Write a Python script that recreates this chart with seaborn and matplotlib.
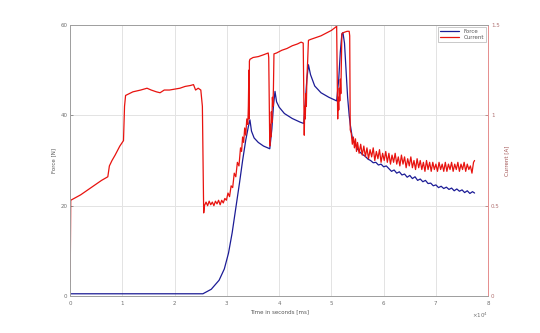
import numpy as np
import pandas as pd
import seaborn as sns
import matplotlib
matplotlib.use("Agg")
import matplotlib.pyplot as plt
from matplotlib.ticker import ScalarFormatter

# time axis in units of 1e4 ms, current in A
cur_t = [0.00, 0.005, 0.01, 0.20, 0.40, 0.60, 0.72, 0.75, 0.80, 0.86, 0.95, 1.02, 1.04, 1.06,
         1.20, 1.35, 1.47, 1.55, 1.65, 1.72, 1.80, 1.90, 2.00, 2.10, 2.20, 2.30, 2.36, 2.40,
         2.45, 2.50, 2.53, 2.545, 2.555, 2.57,
         2.60, 2.63, 2.66, 2.69, 2.72, 2.75, 2.78, 2.81, 2.84, 2.87, 2.90, 2.93, 2.96, 2.99,
         3.02, 3.05, 3.08, 3.11, 3.14, 3.17, 3.20, 3.23, 3.26, 3.28, 3.30, 3.32, 3.34, 3.36,
         3.38, 3.40, 3.41, 3.42, 3.425, 3.43,
         3.44, 3.50, 3.60, 3.70, 3.79, 3.80,
         3.82, 3.83, 3.84, 3.85, 3.86, 3.87, 3.88, 3.89, 3.90,
         3.95, 4.05, 4.15, 4.25, 4.35, 4.42, 4.46,
         4.48, 4.49, 4.50, 4.51, 4.52, 4.53, 4.545, 4.56,
         4.60, 4.70, 4.80, 4.90, 5.00, 5.09, 5.10,
         5.12, 5.13, 5.14, 5.15, 5.16, 5.17, 5.18, 5.19, 5.20, 5.21, 5.25, 5.30, 5.34, 5.35,
         5.36, 5.38, 5.40, 5.42, 5.44, 5.46, 5.48, 5.50, 5.53, 5.56, 5.59, 5.62, 5.65, 5.68,
         5.71, 5.74, 5.77, 5.80, 5.83, 5.86, 5.89, 5.92, 5.95, 5.98, 6.01, 6.04, 6.07, 6.10,
         6.13, 6.16, 6.19, 6.22, 6.25, 6.28, 6.31, 6.34, 6.37, 6.40, 6.43, 6.46, 6.49, 6.52,
         6.55, 6.58, 6.61, 6.64, 6.67, 6.70, 6.73, 6.76, 6.79, 6.82, 6.85, 6.88, 6.91, 6.94,
         6.97, 7.00, 7.03, 7.06, 7.09, 7.12, 7.15, 7.18, 7.21, 7.24, 7.27, 7.30, 7.33, 7.36,
         7.39, 7.42, 7.45, 7.48, 7.51, 7.54, 7.57, 7.60, 7.63, 7.66, 7.69, 7.72, 7.74]
cur_a = [0.08, 0.30, 0.53, 0.56, 0.60, 0.64, 0.66, 0.72, 0.75, 0.78, 0.83, 0.86, 1.05, 1.11,
         1.13, 1.14, 1.15, 1.14, 1.13, 1.125, 1.14, 1.14, 1.145, 1.15, 1.16, 1.165, 1.17, 1.14,
         1.15, 1.14, 1.05, 0.70, 0.46, 0.50,
         0.52, 0.50, 0.525, 0.505, 0.52, 0.50, 0.525, 0.51, 0.53, 0.505, 0.53, 0.515, 0.54, 0.53,
         0.57, 0.55, 0.61, 0.60, 0.68, 0.66, 0.74, 0.72, 0.82, 0.80, 0.88, 0.85, 0.93, 0.89,
         0.98, 0.95, 1.05, 1.25, 0.98, 1.30,
         1.31, 1.32, 1.325, 1.335, 1.345, 1.32,
         0.83, 0.95, 0.88, 1.02, 0.96, 1.10, 1.05, 1.15, 1.34,
         1.345, 1.36, 1.37, 1.385, 1.395, 1.405, 1.40,
         0.89, 1.05, 0.98, 1.12, 1.05, 1.20, 1.30, 1.415,
         1.42, 1.43, 1.44, 1.455, 1.47, 1.49, 1.495,
         0.98, 1.10, 1.03, 1.15, 1.08, 1.20, 1.12, 1.30, 1.45, 1.455, 1.46, 1.465, 1.465, 1.44,
         0.92, 0.90, 0.84, 0.88, 0.82, 0.87, 0.80, 0.85, 0.79, 0.84, 0.78, 0.83, 0.77, 0.82,
         0.76, 0.81, 0.77, 0.82, 0.75, 0.80, 0.76, 0.81, 0.74, 0.79, 0.75, 0.80, 0.74, 0.79,
         0.73, 0.78, 0.74, 0.79, 0.73, 0.77, 0.72, 0.78, 0.73, 0.77, 0.71, 0.76, 0.72, 0.77,
         0.71, 0.75, 0.70, 0.76, 0.71, 0.75, 0.70, 0.74, 0.69, 0.75, 0.70, 0.74, 0.69, 0.74,
         0.70, 0.73, 0.69, 0.74, 0.70, 0.73, 0.69, 0.74, 0.69, 0.73, 0.70, 0.74, 0.69, 0.73,
         0.70, 0.74, 0.69, 0.73, 0.70, 0.74, 0.69, 0.73, 0.70, 0.72, 0.68, 0.74, 0.75]

# force in N
force_t = [0.00, 0.50, 1.00, 1.50, 2.00, 2.54, 2.70, 2.85, 2.95, 3.03, 3.10, 3.17, 3.24,
           3.30, 3.36, 3.41, 3.44, 3.47, 3.52, 3.60, 3.70, 3.82, 3.86, 3.89, 3.92, 3.95,
           4.00, 4.10, 4.25, 4.40, 4.47, 4.50, 4.53, 4.56, 4.60, 4.68, 4.80, 4.95, 5.10,
           5.14, 5.17, 5.20, 5.22, 5.25, 5.28, 5.31, 5.34, 5.36, 5.40, 5.46,
           5.50, 5.55, 5.60, 5.65, 5.70, 5.75, 5.80, 5.85, 5.90, 5.95, 6.00, 6.05, 6.10,
           6.15, 6.20, 6.25, 6.30, 6.35, 6.40, 6.45, 6.50, 6.55, 6.60, 6.65, 6.70, 6.75,
           6.80, 6.85, 6.90, 6.95, 7.00, 7.05, 7.10, 7.15, 7.20, 7.25, 7.30, 7.35, 7.40,
           7.45, 7.50, 7.55, 7.60, 7.65, 7.70, 7.74]
force_n = [0.5, 0.5, 0.5, 0.5, 0.5, 0.5, 1.5, 3.5, 6.0, 9.5, 14.0, 19.5, 25.0,
           30.0, 34.5, 37.5, 39.0, 36.5, 35.0, 34.0, 33.2, 32.6, 37.0, 42.0, 45.3, 43.0,
           41.8, 40.4, 39.3, 38.5, 38.2, 43.0, 48.0, 51.2, 49.0, 46.5, 45.0, 44.0, 43.2,
           48.0, 54.0, 58.0, 58.3, 56.0, 50.0, 44.0, 40.0, 38.0, 35.0, 33.5,
           32.5, 31.8, 31.3, 30.9, 30.3, 30.0, 29.5, 29.6, 29.0, 29.2, 28.6, 28.8, 28.2,
           27.6, 27.9, 27.2, 27.5, 26.8, 27.0, 26.3, 26.7, 26.0, 26.4, 25.6, 25.9, 25.3,
           25.6, 24.9, 25.0, 24.4, 24.6, 24.0, 24.3, 23.8, 24.1, 23.6, 23.9, 23.3, 23.7,
           23.2, 23.5, 22.9, 23.3, 22.7, 23.1, 22.8]

x_ticks = [0, 1, 2, 3, 4, 5, 6, 7, 8]
left_ticks = [0, 20, 40, 60]
right_ticks = [0, 0.5, 1, 1.5]

blue = "#1c1c96"
red = "#e8130f"

df_f = pd.DataFrame({"t": np.array(force_t) * 1e4, "v": force_n})
df_c = pd.DataFrame({"t": np.array(cur_t) * 1e4, "v": cur_a})

sns.set_style("white")
plt.rcParams["font.family"] = ["DejaVu Sans"]

fig = plt.figure(figsize=(5.4, 3.33), dpi=100)
ax = fig.add_axes([0.130, 0.111, 0.774, 0.814])
ax2 = ax.twinx()

sns.lineplot(data=df_f, x="t", y="v", ax=ax, color=blue, lw=0.9,
             sort=False, estimator=None)
sns.lineplot(data=df_c, x="t", y="v", ax=ax2, color=red, lw=0.9,
             sort=False, estimator=None)

ax.set_xlim(0, 8e4)
ax.set_ylim(0, 60)
ax2.set_ylim(0, 1.5)
ax.set_xticks([v * 1e4 for v in x_ticks])
ax.set_yticks(left_ticks)
ax2.set_yticks(right_ticks)
ax2.set_yticklabels(["0", "0.5", "1", "1.5"])

fmt = ScalarFormatter(useMathText=True)
fmt.set_powerlimits((0, 0))
ax.xaxis.set_major_formatter(fmt)
ax.xaxis.get_offset_text().set_fontsize(4)
ax.xaxis.get_offset_text().set_color("#555555")

ax.grid(True, color="#e3e3e3", lw=0.7)
ax.set_axisbelow(True)

for a in (ax, ax2):
    for s in a.spines.values():
        s.set_color("#a0a0a0")
        s.set_linewidth(0.7)
ax2.spines["right"].set_color("#e89090")

ax.tick_params(axis="both", direction="in", length=2, width=0.5, labelsize=4,
               colors="#707070", pad=2)
ax2.tick_params(axis="y", direction="in", length=2, width=0.5, labelsize=4,
                colors="#b07070", pad=2)

ax.set_xlabel("Time in seconds [ms]", fontsize=4, color="#555555", labelpad=2)
ax.set_ylabel("Force [N]", fontsize=4, color="#555555", labelpad=3)
ax2.set_ylabel("Current [A]", fontsize=4, color="#a05050", labelpad=3)

handles = [plt.Line2D([], [], color=blue, lw=0.9), plt.Line2D([], [], color=red, lw=0.9)]
leg = ax2.legend(handles, ["Force", "Current"], loc="upper right", fontsize=4,
                 frameon=True, fancybox=False, handlelength=3.5, borderpad=0.4,
                 labelspacing=0.2, borderaxespad=0.3)
leg.get_frame().set_edgecolor("#a0a0a0")
leg.get_frame().set_linewidth(0.5)
for txt in leg.get_texts():
    txt.set_color("#555555")

fig.savefig("out.png", dpi=100)
